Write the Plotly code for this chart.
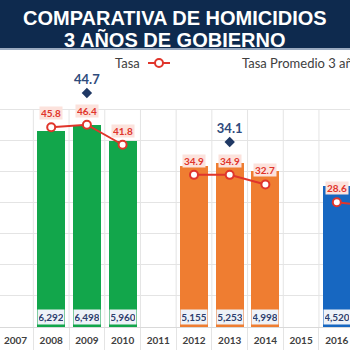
import plotly.graph_objects as go

# ---- data ----
years = [2007, 2008, 2009, 2010, 2011, 2012, 2013, 2014, 2015, 2016, 2017]
periodo = ["", "A", "A", "A", "", "B", "B", "B", "", "C", "C"]
homicidios = [None, 6292, 6498, 5960, None, 5155, 5253, 4998, None, 4520, None]
tasa = [None, 45.8, 46.4, 41.8, None, 34.9, 34.9, 32.7, None, 28.6, 27.7]
prom_years = [2009, 2013]
tasa_promedio = [44.7, 34.1]
grid_vals = [0, 1000, 2000, 3000, 4000, 5000, 6000, 7000]
title_lines = ["COMPARATIVA DE HOMICIDIOS", "3 AÑOS DE GOBIERNO"]

# ---- styling ----
W, H = 350, 350
TOP, BOT = 70, 327          # plot area (pixels)
PH = BOT - TOP
PX_PER_K = 31.14            # pixels per 1000 homicidios
PX_PER_T = 4.36             # pixels per unit of tasa
PX_PER_P = 4.623            # pixels per unit of tasa promedio
col_map = {"A": "#12a64b", "B": "#ef7d31", "C": "#1767c1", "": "#ffffff"}
RED = "#e0352b"
NAVY = "#1f3864"
GRID = "#e4e4e4"
FONT = "Lato"


def py(p):  # pixel y -> paper y
    return (BOT - p) / PH


def px(p):
    return p / W


fig = go.Figure()

fig.add_trace(go.Bar(
    x=years, y=homicidios, width=0.78,
    marker=dict(color=[col_map[p] for p in periodo], line=dict(width=0)),
    yaxis="y", showlegend=False, hoverinfo="skip"))

fig.add_trace(go.Scatter(
    x=years, y=tasa, yaxis="y2", mode="lines+markers", connectgaps=False,
    line=dict(color=RED, width=2),
    marker=dict(symbol="circle", size=8, color="white", line=dict(color=RED, width=2)),
    cliponaxis=False, showlegend=False, hoverinfo="skip"))

fig.add_trace(go.Scatter(
    x=prom_years, y=tasa_promedio, yaxis="y3", mode="markers+text",
    marker=dict(symbol="diamond", size=8, color=NAVY),
    text=[f"{v:.1f}" for v in tasa_promedio], textposition="top center",
    textfont=dict(family=FONT, size=13, color="#2f4b7c", weight="bold"),
    cliponaxis=False, showlegend=False, hoverinfo="skip"))

annotations = []
for x, v in zip(years, homicidios):
    if v is None:
        continue
    annotations.append(dict(
        x=x, y=0, xref="x", yref="y", text=f"{v:,}", showarrow=False,
        yanchor="bottom", yshift=2, width=24, height=12, borderpad=1,
        bgcolor="#eef2f8", font=dict(family=FONT, size=10, color="#2e3f6e", weight="bold")))
for x, v in zip(years, tasa):
    if v is None:
        continue
    annotations.append(dict(
        x=x, y=v, xref="x", yref="y2", text=f"{v:.1f}", showarrow=False,
        yanchor="middle", yshift=14, width=20, height=10, borderpad=1,
        bgcolor="#fce2dc", font=dict(family=FONT, size=10, color=RED, weight="bold")))

annotations.append(dict(x=0.5, y=py(18), xref="paper", yref="paper", text=title_lines[0],
                        showarrow=False, yanchor="middle",
                        font=dict(family="Liberation Sans", size=20, color="white", weight="bold")))
annotations.append(dict(x=0.5, y=py(40), xref="paper", yref="paper", text=title_lines[1],
                        showarrow=False, yanchor="middle",
                        font=dict(family="Liberation Sans", size=20, color="white", weight="bold")))
annotations.append(dict(x=px(142), y=py(63), xref="paper", yref="paper", text="Tasa",
                        showarrow=False, xanchor="right", yanchor="middle",
                        font=dict(family=FONT, size=13, color="#404040")))
annotations.append(dict(x=px(240), y=py(63), xref="paper", yref="paper",
                        text="Tasa Promedio 3 años", showarrow=False, xanchor="left",
                        yanchor="middle", font=dict(family=FONT, size=13, color="#404040")))

shapes = [
    dict(type="rect", xref="paper", yref="paper", x0=0, x1=1, y0=py(48), y1=py(0),
         fillcolor="#0e2a4e", line=dict(width=0), layer="above"),
    dict(type="line", xref="paper", yref="paper", x0=0, x1=1, y0=py(49), y1=py(49),
         line=dict(color="#9aaac0", width=2)),
    dict(type="line", xref="paper", yref="paper", x0=px(148), x1=px(170), y0=py(63), y1=py(63),
         line=dict(color=RED, width=2)),
    dict(type="circle", xref="paper", yref="paper", x0=px(155), x1=px(163),
         y0=py(67), y1=py(59), fillcolor="white", line=dict(color=RED, width=2)),
]
# vertical category separators (grid) between categories, up to the top gridline
for b in years[:-1]:
    shapes.append(dict(type="line", xref="x", yref="y", x0=b + 0.5, x1=b + 0.5,
                       y0=0, y1=grid_vals[-1], line=dict(color=GRID, width=1), layer="below"))

x0 = 2007 - 15.5 / 35.7
x1 = x0 + W / 35.7
y_top = PH / PX_PER_K * 1000
y2_top = PH / PX_PER_T
p_lo = tasa_promedio[0] - (BOT - 93) / PX_PER_P
p_hi = p_lo + PH / PX_PER_P

fig.update_layout(
    width=W, height=H, margin=dict(l=0, r=0, t=TOP, b=H - BOT),
    paper_bgcolor="white", plot_bgcolor="white",
    bargap=0, showlegend=False,
    xaxis=dict(range=[x0, x1], tickmode="array", tickvals=years,
               ticktext=[str(y) for y in years], showgrid=False, ticks="",
               ticklabelstandoff=4,
               tickfont=dict(family=FONT, size=10, color="#404040", weight="bold"),
               showline=True, linecolor="#d9d9d9", linewidth=1, zeroline=False,
               automargin=False,
               minor=dict(tick0=2007.5, dtick=1, showgrid=False,
                          ticks="outside", ticklen=23, tickcolor=GRID)),
    yaxis=dict(range=[0, y_top], tickmode="array", tickvals=grid_vals, showgrid=True,
               gridcolor=GRID, showticklabels=False, zeroline=False, automargin=False),
    yaxis2=dict(range=[0, y2_top], overlaying="y", showgrid=False, showticklabels=False,
                zeroline=False, automargin=False),
    yaxis3=dict(range=[p_lo, p_hi], overlaying="y", showgrid=False, showticklabels=False,
                zeroline=False, automargin=False),
    annotations=annotations, shapes=shapes,
)

fig.write_html("out.html")
